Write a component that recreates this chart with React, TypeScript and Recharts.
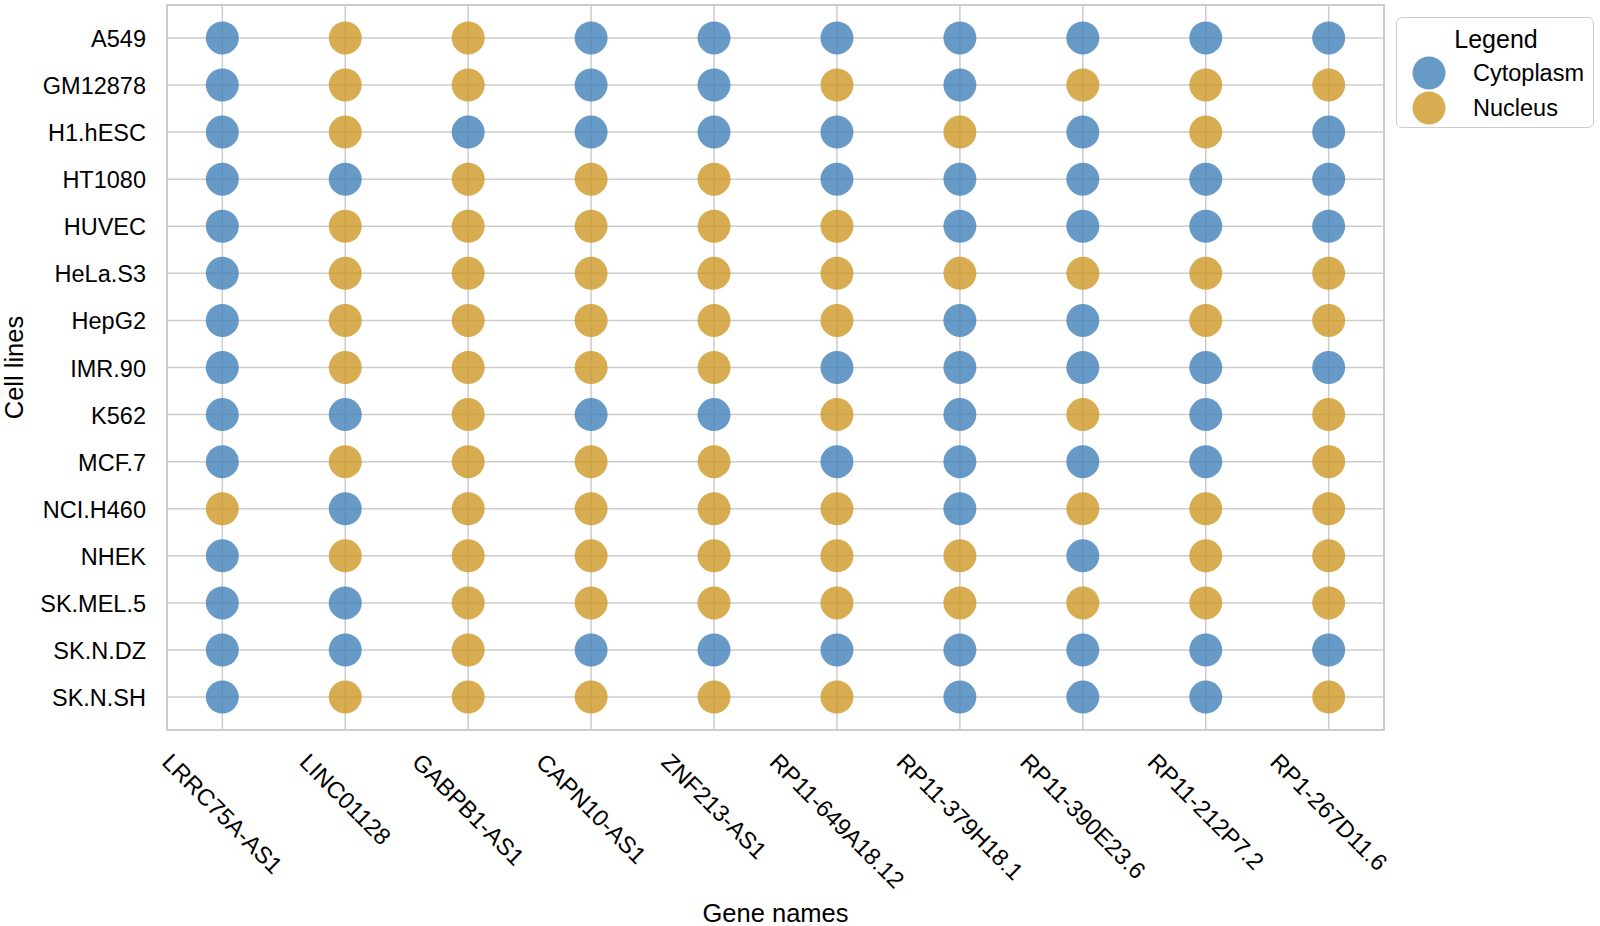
import React from 'react';
import {
  ScatterChart,
  Scatter,
  XAxis,
  YAxis,
  CartesianGrid,
  ReferenceArea,
  Legend,
} from 'recharts';

const genes: string[] = [
  'LRRC75A-AS1',
  'LINC01128',
  'GABPB1-AS1',
  'CAPN10-AS1',
  'ZNF213-AS1',
  'RP11-649A18.12',
  'RP11-379H18.1',
  'RP11-390E23.6',
  'RP11-212P7.2',
  'RP1-267D11.6',
];

const cellLines: string[] = [
  'A549',
  'GM12878',
  'H1.hESC',
  'HT1080',
  'HUVEC',
  'HeLa.S3',
  'HepG2',
  'IMR.90',
  'K562',
  'MCF.7',
  'NCI.H460',
  'NHEK',
  'SK.MEL.5',
  'SK.N.DZ',
  'SK.N.SH',
];

// One string per cell line, one letter per gene: C = Cytoplasm, N = Nucleus
const localization: string[] = [
  'CNNCCCCCCC', // A549
  'CNNCCNCNNN', // GM12878
  'CNCCCCNCNC', // H1.hESC
  'CCNNNCCCCC', // HT1080
  'CNNNNNCCCC', // HUVEC
  'CNNNNNNNNN', // HeLa.S3
  'CNNNNNCCNN', // HepG2
  'CNNNNCCCCC', // IMR.90
  'CCNCCNCNCN', // K562
  'CNNNNCCCCN', // MCF.7
  'NCNNNNCNNN', // NCI.H460
  'CNNNNNNCNN', // NHEK
  'CCNNNNNNNN', // SK.MEL.5
  'CCNCCCCCCC', // SK.N.DZ
  'CNNNNNCCCN', // SK.N.SH
];

const seriesNames = ['Cytoplasm', 'Nucleus'];
const seriesCodes = ['C', 'N'];
const seriesColors = ['#4281b9', '#ce9724'];

const FONT = "'Liberation Sans', Arial, Helvetica, sans-serif";
const TICK_FS = 23.5;
const LABEL_FS = 25.5;
const MARKER_R = 16.5;

const pointsFor = (code: string) => {
  const pts: { x: number; y: number; gene: string; cell: string }[] = [];
  cellLines.forEach((cell, yi) => {
    genes.forEach((gene, xi) => {
      if (localization[yi][xi] === code) pts.push({ x: xi, y: yi, gene, cell });
    });
  });
  return pts;
};

let measureCtx: CanvasRenderingContext2D | null = null;
const measure = (text: string, fs: number) => {
  try {
    if (!measureCtx) {
      const c = document.createElement('canvas');
      measureCtx = c.getContext('2d');
    }
    if (measureCtx) {
      measureCtx.font = `${fs}px ${FONT}`;
      return measureCtx.measureText(text).width;
    }
  } catch (e) {
    /* ignore */
  }
  return text.length * fs * 0.58;
};

const GeneTick = (props: any) => {
  const { x, y, payload } = props;
  const label = genes[payload.value] ?? '';
  const w = measure(label, TICK_FS);
  const cap = 0.716 * TICK_FS;
  const cy = y + (w + cap) * Math.SQRT1_2 / 2;
  return (
    <text
      x={x}
      y={cy}
      transform={`rotate(45, ${x}, ${cy})`}
      textAnchor="middle"
      dominantBaseline="central"
      fontFamily={FONT}
      fontSize={TICK_FS}
      fill="#000"
    >
      {label}
    </text>
  );
};

const CellTick = (props: any) => {
  const { x, y, payload } = props;
  const label = cellLines[payload.value] ?? '';
  return (
    <text
      x={x}
      y={y}
      dy={1}
      textAnchor="end"
      dominantBaseline="central"
      fontFamily={FONT}
      fontSize={TICK_FS}
      fill="#000"
    >
      {label}
    </text>
  );
};

const makeShape = (color: string) => (props: any) => {
  const { cx, cy } = props;
  if (cx == null || cy == null) return <g />;
  return <circle cx={cx} cy={cy} r={MARKER_R} fill={color} fillOpacity={0.8} stroke="none" />;
};

const LegendBox = (props: any) => {
  const payload = (props.payload || []) as any[];
  return (
    <div
      style={{
        width: 196,
        height: 109,
        border: '1.5px solid #cccccc',
        borderRadius: 6,
        background: '#fff',
        fontFamily: FONT,
        position: 'relative',
        boxSizing: 'content-box',
      }}
    >
      <div
        style={{
          position: 'absolute',
          left: 0,
          right: 0,
          top: 6,
          textAlign: 'center',
          fontSize: 25,
          lineHeight: '30px',
          color: '#000',
          paddingLeft: 2,
        }}
      >
        Legend
      </div>
      {payload.map((p, i) => (
        <div
          key={p.value}
          style={{
            position: 'absolute',
            left: 0,
            top: 38 + i * 35,
            height: 34,
            display: 'flex',
            alignItems: 'center',
          }}
        >
          <svg width={66} height={34} style={{ display: 'block' }}>
            <circle cx={32} cy={17} r={MARKER_R} fill={p.color} fillOpacity={0.8} />
          </svg>
          <span style={{ fontSize: TICK_FS, color: '#000', marginLeft: 10 }}>{p.value}</span>
        </div>
      ))}
    </div>
  );
};

const YLabel = (props: any) => {
  const vb = props.viewBox || { x: 0, y: 0, width: 0, height: 0 };
  const cx = 14;
  const cy = vb.y + vb.height / 2;
  return (
    <text
      x={cx}
      y={cy}
      transform={`rotate(-90, ${cx}, ${cy})`}
      textAnchor="middle"
      dominantBaseline="central"
      fontFamily={FONT}
      fontSize={LABEL_FS}
      fill="#000"
    >
      Cell lines
    </text>
  );
};

const XLabel = (props: any) => {
  const vb = props.viewBox || { x: 0, y: 0, width: 0, height: 0 };
  const cx = vb.x + vb.width / 2;
  return (
    <text
      x={cx}
      y={922}
      textAnchor="middle"
      fontFamily={FONT}
      fontSize={LABEL_FS}
      fill="#000"
    >
      Gene names
    </text>
  );
};

const xTicks = genes.map((_, i) => i);
const yTicks = cellLines.map((_, i) => i);

export default function App() {
  return (
    <div style={{ position: 'absolute', left: 0, top: 0, width: 1600, height: 926, background: '#fff' }}>
      <ScatterChart
        width={1600}
        height={926}
        margin={{ top: 5, right: 216, bottom: 0, left: 0 }}
      >
        <CartesianGrid stroke="#cccccc" strokeWidth={1.5} />
        <XAxis
          type="number"
          dataKey="x"
          domain={[-0.45, genes.length - 1 + 0.45]}
          ticks={xTicks}
          interval={0}
          allowDataOverflow
          axisLine={false}
          tickLine={false}
          tickSize={0}
          tickMargin={22}
          height={196}
          tick={<GeneTick />}
          label={<XLabel />}
        />
        <YAxis
          type="number"
          dataKey="y"
          domain={[-0.7, cellLines.length - 1 + 0.7]}
          ticks={yTicks}
          interval={0}
          reversed
          allowDataOverflow
          axisLine={false}
          tickLine={false}
          tickSize={0}
          tickMargin={21}
          width={167}
          tick={<CellTick />}
          label={<YLabel />}
        />
        <ReferenceArea
          x1={-0.45}
          x2={genes.length - 1 + 0.45}
          y1={-0.7}
          y2={cellLines.length - 1 + 0.7}
          fill="none"
          fillOpacity={0}
          stroke="#cccccc"
          strokeWidth={2}
          ifOverflow="visible"
        />
        {seriesNames.map((name, i) => (
          <Scatter
            key={name}
            name={name}
            data={pointsFor(seriesCodes[i])}
            fill={seriesColors[i]}
            shape={makeShape(seriesColors[i])}
            isAnimationActive={false}
          />
        ))}
        <Legend
          layout="vertical"
          align="center"
          verticalAlign="middle"
          content={<LegendBox />}
          wrapperStyle={{ left: 1396, top: 17, width: 199, height: 112, margin: 0 }}
        />
      </ScatterChart>
    </div>
  );
}
